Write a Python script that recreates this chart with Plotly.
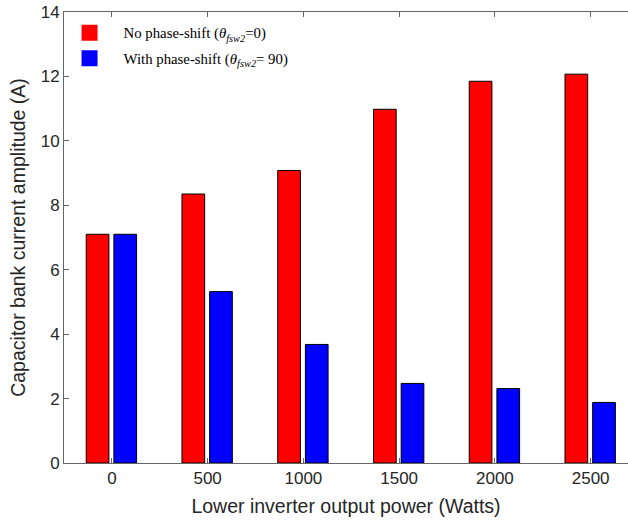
import plotly.graph_objects as go

categories = ["0", "500", "1000", "1500", "2000", "2500"]
no_shift = [7.1, 8.35, 9.08, 10.98, 11.85, 12.07]
with_shift = [7.1, 5.32, 3.68, 2.47, 2.31, 1.88]
y_ticks = [0, 2, 4, 6, 8, 10, 12, 14]

name1 = "No phase-shift (<i>θ</i><sub><i>fsw2</i></sub>=0)"
name2 = "With phase-shift (<i>θ</i><sub><i>fsw2</i></sub>= 90)"

xi = list(range(len(categories)))

fig = go.Figure()
fig.add_trace(go.Bar(x=xi, y=no_shift, width=0.237, offset=-0.268,
                     marker=dict(color="#ff0000", line=dict(color="#000000", width=1)),
                     showlegend=False))
fig.add_trace(go.Bar(x=xi, y=with_shift, width=0.237, offset=0.021,
                     marker=dict(color="#0000ff", line=dict(color="#000000", width=1)),
                     showlegend=False))
# legend entries
fig.add_trace(go.Scatter(x=[None], y=[None], mode="markers", name=name1,
                         marker=dict(symbol="square", size=18, color="#ff0000", line=dict(width=0)),
                         legend="legend"))
fig.add_trace(go.Scatter(x=[None], y=[None], mode="markers", name=name2,
                         marker=dict(symbol="square", size=18, color="#0000ff", line=dict(width=0)),
                         legend="legend2"))

axis_color = "#666666"
tick_font = dict(family="Liberation Sans, Arial", size=17, color="#262626")
title_font = dict(family="Liberation Sans, Arial", size=19.5, color="#262626")
leg_font = dict(family="Liberation Serif, Times New Roman", size=14.8, color="#000000")

fig.update_layout(
    width=628, height=523,
    margin=dict(l=64, r=0, t=12, b=60),
    plot_bgcolor="white", paper_bgcolor="white",
    barmode="overlay",
    xaxis=dict(
        range=[-0.5, 5.39],
        tickmode="array", tickvals=xi, ticktext=categories,
        ticks="inside", ticklen=5, tickcolor=axis_color,
        showline=True, linecolor=axis_color, linewidth=1, mirror="ticks",
        showgrid=False, zeroline=False,
        tickfont=tick_font,
        title=dict(text="Lower inverter output power (Watts)", font=title_font, standoff=11),
    ),
    yaxis=dict(
        range=[0, 14],
        tickmode="array", tickvals=y_ticks,
        ticks="inside", ticklen=5, tickcolor=axis_color,
        showline=True, linecolor=axis_color, linewidth=1, mirror=False,
        showgrid=False, zeroline=False,
        tickfont=tick_font,
        title=dict(text="Capacitor bank current amplitude (A)", font=title_font, standoff=9),
    ),
    legend=dict(x=-0.015, y=0.99, xanchor="left", yanchor="top", bgcolor="rgba(0,0,0,0)",
                font=leg_font, itemwidth=58, borderwidth=0),
    legend2=dict(x=-0.015, y=0.933, xanchor="left", yanchor="top", bgcolor="rgba(0,0,0,0)",
                 font=leg_font, itemwidth=58, borderwidth=0),
)

fig.write_html("out.html")
